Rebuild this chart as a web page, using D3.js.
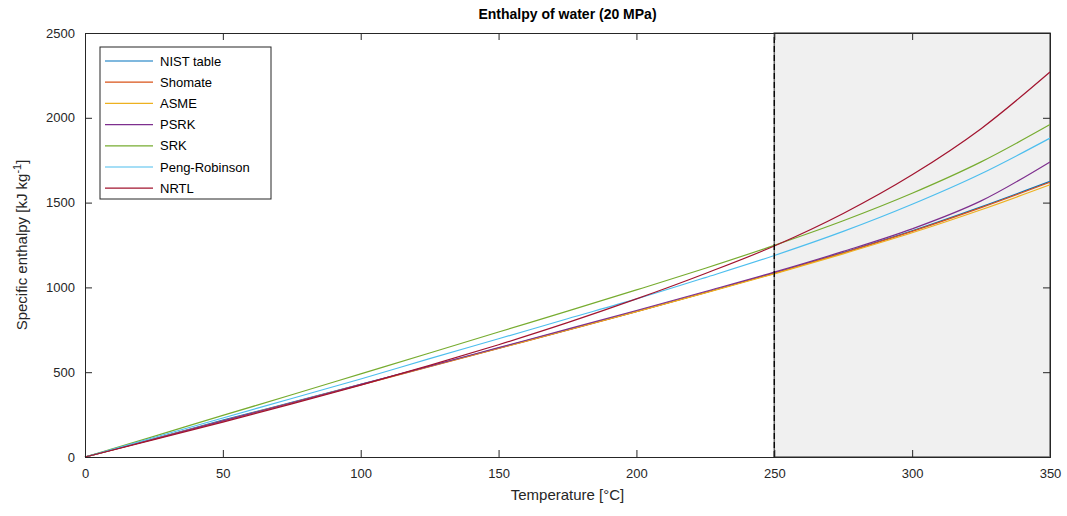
<!DOCTYPE html>
<html>
<head>
<meta charset="utf-8">
<script src="https://cdn.jsdelivr.net/npm/d3@7"></script>
<style>
  body { margin: 0; background: #fff; }
  svg { font-family: "Liberation Sans", Arial, sans-serif; }
</style>
</head>
<body>
<script>

const temps = [0, 25, 50, 75, 100, 125, 150, 175, 200, 225, 250, 275, 300, 325, 350];

// Enthalpy per model (kJ/kg)
const nist    = [0, 107, 217, 322, 428, 535, 642, 750, 858, 970, 1085, 1206, 1334, 1475, 1625];
const shomate = [0, 105, 212, 318, 425, 532, 640, 748, 857, 969, 1083, 1203, 1330, 1470, 1620];
const asme    = [0, 106, 214, 320, 427, 534, 641, 749, 857, 968, 1080, 1198, 1322, 1458, 1605];
const psrk    = [0, 106, 213, 320, 428, 536, 645, 754, 864, 976, 1090, 1212, 1345, 1510, 1740];
const srk     = [0, 122, 245, 367, 490, 613, 737, 860, 985, 1113, 1248, 1393, 1555, 1740, 1960];
const pengRob = [0, 115, 230, 345, 460, 580, 697, 815, 932, 1058, 1188, 1330, 1490, 1670, 1880];
const nrtl    = [0, 102, 206, 313, 424, 540, 662, 792, 932, 1082, 1244, 1436, 1664, 1936, 2270];

const seriesNames = ["NIST table", "Shomate", "ASME", "PSRK", "SRK", "Peng-Robinson", "NRTL"];
const seriesColors = ["#0072BD", "#D95319", "#EDB120", "#7E2F8E", "#77AC30", "#4DBEEE", "#A2142F"];
const seriesValues = [nist, shomate, asme, psrk, srk, pengRob, nrtl];

// Tick values
const ticksX = [0, 50, 100, 150, 200, 250, 300, 350];
const ticksY = [0, 500, 1000, 1500, 2000, 2500];

// Shaded extrapolation region
const shadeRange = [250, 350];

// Chart size and margins
const width = 1067;
const height = 516;
const paddingTop = 33;
const paddingRight = 17;
const paddingBottom = 59;
const paddingLeft = 85;

const svg = d3.select("body").append("svg")
    .attr("width", width)
    .attr("height", height);

const xScale = d3.scaleLinear().domain([0, 350]).range([paddingLeft, width - paddingRight]);
const yScale = d3.scaleLinear().domain([0, 2500]).range([height - paddingBottom, paddingTop]);

const textColor = "#262626";

// Shaded region
svg.append("rect")
    .attr("x", xScale(shadeRange[0]))
    .attr("y", yScale(2500))
    .attr("width", xScale(shadeRange[1]) - xScale(shadeRange[0]))
    .attr("height", yScale(0) - yScale(2500))
    .attr("fill", "#f0f0f0")
    .attr("stroke", "#6b6b6b")
    .attr("stroke-width", 1.5);

// Curves
const line = d3.line()
    .x(d => xScale(d[0]))
    .y(d => yScale(d[1]))
    .curve(d3.curveMonotoneX);

svg.append("g")
    .selectAll("path")
    .data(seriesValues)
    .enter()
    .append("path")
    .attr("d", vals => line(temps.map((t, i) => [t, vals[i]])))
    .attr("fill", "none")
    .attr("stroke", (d, i) => seriesColors[i])
    .attr("stroke-width", 1.2);

// Dashed boundary line
svg.append("line")
    .attr("x1", xScale(shadeRange[0]))
    .attr("x2", xScale(shadeRange[0]))
    .attr("y1", yScale(0))
    .attr("y2", yScale(2500))
    .attr("stroke", "#000")
    .attr("stroke-width", 1.3)
    .attr("stroke-dasharray", "6,3");

// Axes (MATLAB style: ticks inside, box on)
const xAxis = d3.axisBottom(xScale).tickValues(ticksX).tickSize(-7).tickPadding(12);
const yAxis = d3.axisLeft(yScale).tickValues(ticksY).tickSize(-7).tickPadding(10).tickFormat(d3.format("d"));
const xTop = d3.axisTop(xScale).tickValues(ticksX).tickSize(-7).tickFormat("");
const yRight = d3.axisRight(yScale).tickValues(ticksY).tickSize(-7).tickFormat("");

function styleAxis(g) {
    g.select(".domain").attr("stroke", textColor);
    g.selectAll(".tick line").attr("stroke", textColor);
    g.selectAll(".tick text")
        .attr("fill", textColor)
        .style("font-size", "13px")
        .style("font-family", "'Liberation Sans', Arial, sans-serif");
}

svg.append("g")
    .attr("transform", `translate(0, ${height - paddingBottom})`)
    .call(xAxis).call(styleAxis);
svg.append("g")
    .attr("transform", `translate(${paddingLeft}, 0)`)
    .call(yAxis).call(styleAxis);
svg.append("g")
    .attr("transform", `translate(0, ${paddingTop})`)
    .call(xTop).call(styleAxis);
svg.append("g")
    .attr("transform", `translate(${width - paddingRight}, 0)`)
    .call(yRight).call(styleAxis);

// Title
svg.append("text")
    .attr("x", (xScale(0) + xScale(350)) / 2)
    .attr("y", 19)
    .attr("text-anchor", "middle")
    .attr("font-weight", "bold")
    .attr("font-size", "14px")
    .attr("fill", "#000")
    .text("Enthalpy of water (20 MPa)");

// Axis labels
svg.append("text")
    .attr("x", (xScale(0) + xScale(350)) / 2)
    .attr("y", 500)
    .attr("text-anchor", "middle")
    .attr("font-size", "15px")
    .attr("fill", textColor)
    .text("Temperature [°C]");

const yLabel = svg.append("text")
    .attr("transform", `translate(27, ${(yScale(0) + yScale(2500)) / 2}) rotate(-90)`)
    .attr("text-anchor", "middle")
    .attr("font-size", "15px")
    .attr("fill", textColor);
yLabel.append("tspan").text("Specific enthalpy [kJ kg");
yLabel.append("tspan").attr("dy", -6).attr("font-size", "11px").text("-1");
yLabel.append("tspan").attr("dy", 6).text("]");

// Legend
const legendX = 100;
const legendY = 47;
const rowH = 21.2;
const legend = svg.append("g").attr("transform", `translate(${legendX}, ${legendY})`);
legend.append("rect")
    .attr("width", 171)
    .attr("height", 152)
    .attr("fill", "#fff")
    .attr("stroke", textColor)
    .attr("stroke-width", 1);

const items = legend.selectAll("g.item")
    .data(seriesNames)
    .enter()
    .append("g")
    .attr("transform", (d, i) => `translate(0, ${14 + i * rowH})`);
items.append("line")
    .attr("x1", 5).attr("x2", 53)
    .attr("stroke", (d, i) => seriesColors[i])
    .attr("stroke-width", 1.2);
items.append("text")
    .attr("x", 60)
    .attr("dy", "0.35em")
    .attr("font-size", "13px")
    .attr("fill", "#000")
    .text(d => d);

</script>
</body>
</html>
